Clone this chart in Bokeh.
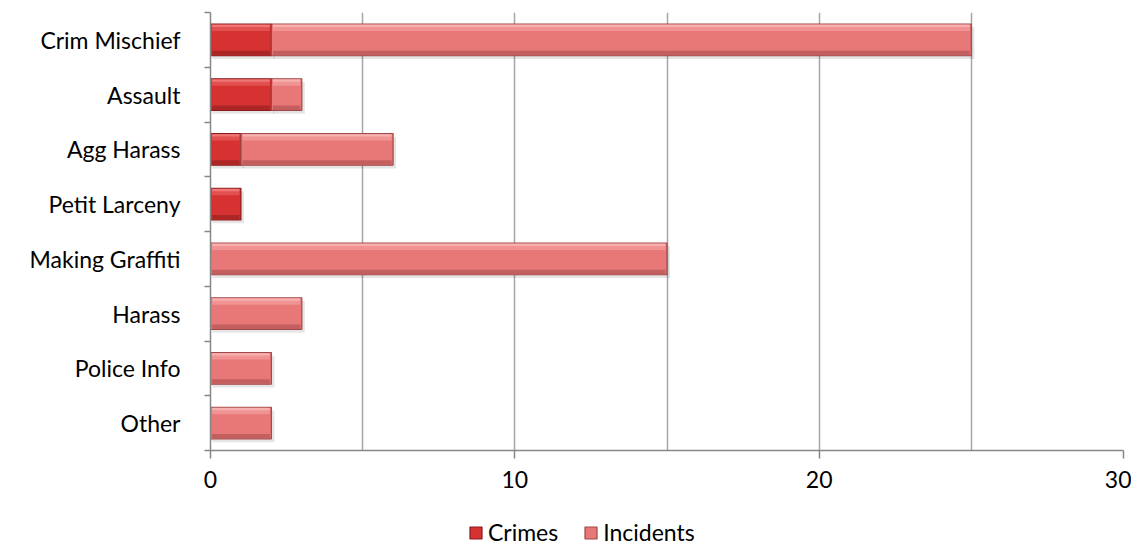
from bokeh.plotting import figure
from bokeh.layouts import column
from bokeh.models import Range1d, FixedTicker, Legend, LegendItem, ColumnDataSource
from bokeh.embed import file_html
from bokeh.resources import INLINE

categories = ["Crim Mischief", "Assault", "Agg Harass", "Petit Larceny",
              "Making Graffiti", "Harass", "Police Info", "Other"]
crimes = [2, 2, 1, 1, 0, 0, 0, 0]
incidents = [23, 1, 5, 0, 15, 3, 2, 2]
series_names = ["Crimes", "Incidents"]
x_ticks = [0, 10, 20, 30]
x_minor = [5, 15, 25]

FONT = "Lato"
n = len(categories)
ypos = [n - 0.5 - i for i in range(n)]
BAR_H = 0.58
NAN = float("nan")

STYLES = {
    "Crimes": dict(base="#d63232", light="#e65858", hi="#f08080", dark="#a52424", edge="#8a1c1c"),
    "Incidents": dict(base="#e87878", light="#f29a9a", hi="#f8b8b8", dark="#bd5a5a", edge="#9e4848"),
}


def make_src(starts, vals):
    ys, ls, rs = [], [], []
    for y, s, v in zip(ypos, starts, vals):
        if v > 0:
            ys.append(y)
            ls.append(s)
            rs.append(s + v)
    return ColumnDataSource(dict(
        y=ys, left=ls, right=rs,
        y_sh=[y - 0.06 for y in ys],
        l_sh=[l + 0.06 for l in ls],
        r_sh=[r + 0.1 for r in rs],
        y_top=[y + BAR_H / 2 - 0.07 for y in ys],
        y_hi=[y + BAR_H / 2 - 0.035 for y in ys],
        y_bot=[y - BAR_H / 2 + 0.05 for y in ys],
        l_in=[l + 0.05 for l in ls],
        r_in=[r - 0.05 for r in rs],
    ))


crime_src = make_src([0] * n, crimes)
inc_src = make_src(crimes, incidents)

p = figure(width=1131, height=500, output_backend="svg", toolbar_location=None,
           x_range=Range1d(0, 30), y_range=Range1d(0, n),
           min_border_left=210, min_border_right=8, min_border_top=12,
           min_border_bottom=50)
p.outline_line_color = None
p.background_fill_color = "white"
p.border_fill_color = "white"

# grid
p.ygrid.grid_line_color = None
p.xgrid.grid_line_color = "#a6a6a6"
p.xgrid.grid_line_width = 1.5
p.xgrid.minor_grid_line_color = "#a6a6a6"
p.xgrid.minor_grid_line_width = 1.5

# x axis
p.xaxis.ticker = FixedTicker(ticks=x_ticks, minor_ticks=x_minor)
p.xaxis.axis_line_color = "#878787"
p.xaxis.axis_line_width = 1.5
p.xaxis.major_tick_line_color = "#878787"
p.xaxis.major_tick_line_width = 1.5
p.xaxis.major_tick_out = 8
p.xaxis.major_tick_in = 0
p.xaxis.minor_tick_line_color = None
p.xaxis.major_label_standoff = 12
p.xaxis.major_label_text_font = FONT
p.xaxis.major_label_text_font_size = "23px"
p.xaxis.major_label_text_color = "black"

# y axis
p.yaxis.ticker = FixedTicker(ticks=ypos, minor_ticks=list(range(n + 1)))
p.yaxis.major_label_overrides = {y: c for y, c in zip(ypos, categories)}
p.yaxis.axis_line_color = "#878787"
p.yaxis.axis_line_width = 1.5
p.yaxis.major_tick_line_color = None
p.yaxis.major_tick_out = 0
p.yaxis.major_tick_in = 0
p.yaxis.minor_tick_line_color = "#878787"
p.yaxis.minor_tick_line_width = 1.5
p.yaxis.minor_tick_out = 6
p.yaxis.minor_tick_in = 0
p.yaxis.major_label_standoff = 24
p.yaxis.major_label_text_font = FONT
p.yaxis.major_label_text_font_size = "23px"
p.yaxis.major_label_text_color = "black"


def draw(src, st):
    p.hbar(y="y_sh", left="l_sh", right="r_sh", height=BAR_H, source=src,
           fill_color="black", fill_alpha=0.10, line_color=None)
    p.hbar(y="y", left="left", right="right", height=BAR_H, source=src,
           fill_color=st["base"], line_color=st["edge"], line_width=1.2)
    p.hbar(y="y_top", left="l_in", right="r_in", height=0.12, source=src,
           fill_color=st["light"], fill_alpha=0.8, line_color=None)
    p.hbar(y="y_hi", left="l_in", right="r_in", height=0.04, source=src,
           fill_color=st["hi"], fill_alpha=0.8, line_color=None)
    p.hbar(y="y_bot", left="l_in", right="r_in", height=0.08, source=src,
           fill_color=st["dark"], fill_alpha=0.85, line_color=None)


draw(crime_src, STYLES["Crimes"])
draw(inc_src, STYLES["Incidents"])

# legend strip (separate small figure below the chart, frame aligned with chart)
lg = figure(width=1131, height=50, output_backend="svg", toolbar_location=None,
            x_range=Range1d(0, 1), y_range=Range1d(0, 1),
            x_axis_location=None, y_axis_location=None,
            min_border_left=0, min_border_right=0, min_border_top=0,
            min_border_bottom=0)
lg.grid.grid_line_color = None
lg.outline_line_color = None
lg.background_fill_color = "white"
lg.border_fill_color = "white"

items = []
for name in series_names:
    st = STYLES[name]
    r = lg.hbar(y="y", left="left", right="right", height=0.5,
                source=ColumnDataSource(dict(y=[NAN], left=[NAN], right=[NAN])),
                fill_color=st["base"], line_color=st["edge"], line_width=1.2)
    items.append(LegendItem(label=name, renderers=[r]))

legend = Legend(items=items, orientation="horizontal", location=(258, 4),
                label_text_font=FONT, label_text_font_size="23px",
                label_text_color="black",
                glyph_width=15, glyph_height=15, label_standoff=5,
                spacing=25, padding=0, margin=0,
                border_line_color=None, background_fill_alpha=0)
lg.add_layout(legend, "center")

layout = column(p, lg, spacing=0)
open("out.html", "w").write(file_html(layout, INLINE))
